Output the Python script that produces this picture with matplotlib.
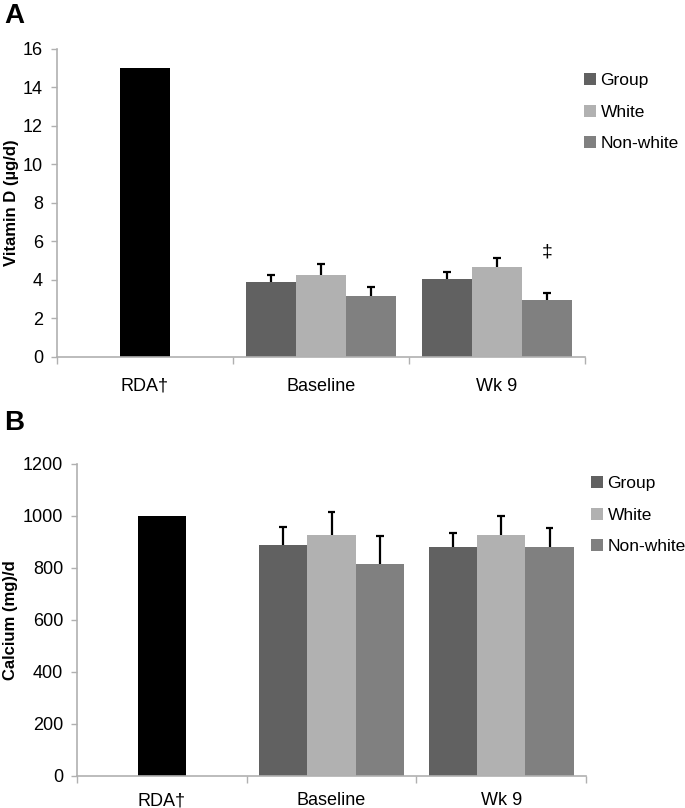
import matplotlib
matplotlib.use("Agg")
import matplotlib.pyplot as plt
import numpy as np
from matplotlib.patches import Patch

plt.rcParams['font.family'] = ['Liberation Sans', 'DejaVu Sans']

categories = ["RDA\u2020", "Baseline", "Wk 9"]
series = ["Group", "White", "Non-white"]
colors = ["#616161", "#b1b1b1", "#808080"]

# Panel A: Vitamin D (µg/d)
rda_a = 15.0
vitd_means = {"Group": [3.87, 4.07], "White": [4.25, 4.66], "Non-white": [3.15, 2.97]}
vitd_err = {"Group": [0.40, 0.37], "White": [0.57, 0.50], "Non-white": [0.47, 0.36]}

# Panel B: Calcium (mg/d)
rda_b = 1000.0
ca_means = {"Group": [887, 880], "White": [928, 928], "Non-white": [815, 880]}
ca_err = {"Group": [69, 53], "White": [87, 72], "Non-white": [109, 74]}

fig = plt.figure(figsize=(6.85, 8.08), dpi=100)

axA = fig.add_axes([0.0832, 0.5582, 0.7708, 0.3812])
axB = fig.add_axes([0.1124, 0.0400, 0.7431, 0.3858])

bw = 0.285
offsets = [-bw, 0.0, bw]
cap = 0.022

def draw(ax, rda, means, errs, ylim, yticks, ylabel, labx, label_pad):
    ax.bar(0, rda, width=bw, color="black", zorder=2)
    xs_base = np.array([1, 2])
    for s, c, off in zip(series, colors, offsets):
        xs = xs_base + off
        m = np.array(means[s], dtype=float)
        e = np.array(errs[s], dtype=float)
        ax.bar(xs, m, width=bw, color=c, zorder=2)
        ax.vlines(xs, m, m + e, color="black", linewidth=1.6, zorder=3)
        ax.hlines(m + e, xs - cap, xs + cap, color="black", linewidth=1.6, zorder=3)
    ax.set_xlim(-0.5, 2.5)
    ax.set_ylim(*ylim)
    ax.set_yticks(yticks)
    ax.set_xticks([0, 1, 2])
    ax.set_xticklabels(categories, fontsize=13)
    ax.set_xticks([-0.5, 0.5, 1.5, 2.5], minor=True)
    ax.tick_params(axis="x", which="major", length=0, pad=label_pad)
    ax.tick_params(axis="x", which="minor", length=5, color="#b0b0b0", width=1)
    ax.tick_params(axis="y", length=4, color="#b0b0b0", width=1, labelsize=13, pad=6)
    for sp in ["top", "right"]:
        ax.spines[sp].set_visible(False)
    for sp in ["left", "bottom"]:
        ax.spines[sp].set_color("#b0b0b0")
        ax.spines[sp].set_linewidth(1.2)
    ax.set_ylabel(ylabel, fontsize=12, fontweight="bold")
    ax.yaxis.set_label_coords(labx, 0.5)

draw(axA, rda_a, vitd_means, vitd_err, (0, 16), range(0, 17, 2),
     "Vitamin D (\u00b5g/d)", -0.072, 15)
draw(axB, rda_b, ca_means, ca_err, (0, 1200), range(0, 1201, 200),
     "Calcium (mg)/d", -0.116, 12)

axA.text(2 + bw, 5.45, "\u2021", ha="center", va="center", fontsize=14)

handles = [Patch(facecolor=c, edgecolor="none") for c in colors]
for anchor in [(584 / 685, 1 - 73 / 808), (591 / 685, 1 - 476 / 808)]:
    fig.legend(handles, series, loc="upper left", bbox_to_anchor=anchor,
               frameon=False, fontsize=12.5, handlelength=0.7, handleheight=0.7,
               handletextpad=0.25, labelspacing=0.95, borderpad=0, borderaxespad=0)

fig.text(0.006, 1 - 3 / 808, "A", ha="left", va="top", fontsize=20, fontweight="bold")
fig.text(0.006, 1 - 410 / 808, "B", ha="left", va="top", fontsize=20, fontweight="bold")

fig.savefig("out.png", dpi=100)
